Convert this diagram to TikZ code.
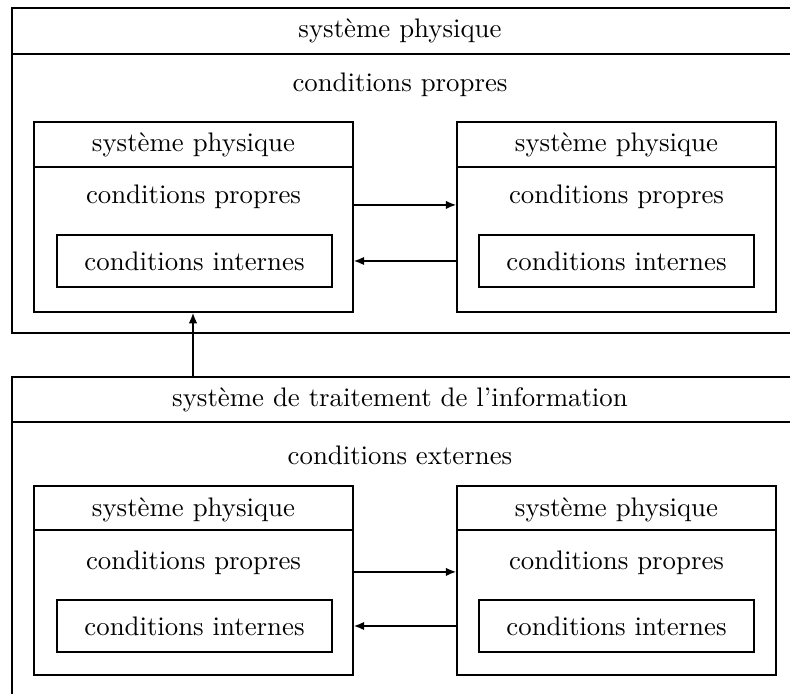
\documentclass[tikz,border=0pt]{standalone}
\usetikzlibrary{arrows.meta}
\begin{document}
\begin{tikzpicture}[x=0.01311cm,y=-0.01311cm,line width=0.75pt,
  sysbox/.style={draw,minimum width=118.6pt,minimum height=70.5pt,inner sep=0pt},
  intbox/.style={draw,minimum width=102.6pt,minimum height=19.4pt,inner sep=0pt},
  fl/.style={-{Latex[length=4pt,width=3.2pt]}}]
\useasboundingbox (0,0) rectangle (790,694);
\clip (0,0) rectangle (790,694);

\draw (800,8) -- (12,8) -- (12,333) -- (800,333);
\draw (12,54) -- (800,54);
\node (sy0) at (400,31) {système physique};
\node (cp0) at (400,85) {conditions propres};

\node[sysbox] (sp1) at (193.5,217) {};
\draw ([yshift=-16.8pt]sp1.north west) -- ([yshift=-16.8pt]sp1.north east);
\node (sy1) at (193.5,144.5) {système physique};
\node (cp1) at (193.5,197) {conditions propres};
\node[intbox] (ci1) at (194.5,261) {conditions internes};

\node[sysbox] (sp2) at (616.5,217) {};
\draw ([yshift=-16.8pt]sp2.north west) -- ([yshift=-16.8pt]sp2.north east);
\node (sy2) at (616.5,144.5) {système physique};
\node (cp2) at (616.5,197) {conditions propres};
\node[intbox] (ci2) at (616.5,261) {conditions internes};

\draw[fl] ([yshift=4.5pt]sp1.east) -- ([yshift=4.5pt]sp2.west);
\draw[fl] (sp2.west |- ci2) -- (sp1.east |- ci1);

\draw (800,377) -- (12,377) -- (12,700);
\draw (12,422) -- (800,422);
\node (st) at (400,400) {système de traitement de l'information};
\node (ce) at (400,455) {conditions externes};
\coordinate (ti) at (193,377);
\draw[fl] (ti) -- (sp1.south -| ti);

\node[sysbox] (sp3) at (193.5,580.5) {};
\draw ([yshift=-16.8pt]sp3.north west) -- ([yshift=-16.8pt]sp3.north east);
\node (sy3) at (193.5,510) {système physique};
\node (cp3) at (193.5,563) {conditions propres};
\node[intbox] (ci3) at (194.5,626) {conditions internes};

\node[sysbox] (sp4) at (616.5,580.5) {};
\draw ([yshift=-16.8pt]sp4.north west) -- ([yshift=-16.8pt]sp4.north east);
\node (sy4) at (616.5,510) {système physique};
\node (cp4) at (616.5,563) {conditions propres};
\node[intbox] (ci4) at (616.5,626) {conditions internes};

\draw[fl] ([yshift=3.2pt]sp3.east) -- ([yshift=3.2pt]sp4.west);
\draw[fl] (sp4.west |- ci4) -- (sp3.east |- ci3);
\end{tikzpicture}
\end{document}
